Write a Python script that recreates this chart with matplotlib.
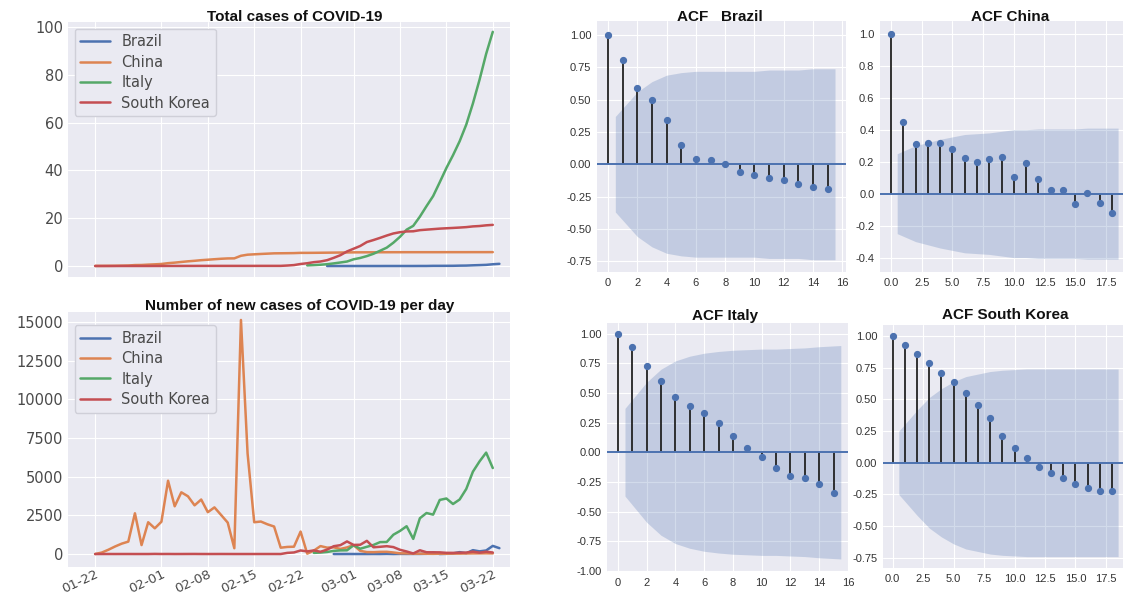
import matplotlib.pyplot as plt
import matplotlib.dates as mdates
import numpy as np
import pandas as pd
from matplotlib import font_manager

# total cases per 100k inhabitants
brazil_total = [0.00, 0.00, 0.00, 0.00, 0.00, 0.00, 0.00, 0.00, 0.00,
                0.01, 0.01, 0.01, 0.01, 0.01, 0.02, 0.02, 0.07, 0.07, 0.08,
                0.09, 0.15, 0.18, 0.29, 0.38, 0.48, 0.73, 0.91]
china_total = [0.04, 0.05, 0.07, 0.10, 0.15, 0.21, 0.39, 0.43, 0.58, 0.70,
               0.85, 1.19, 1.41, 1.69, 1.96, 2.18, 2.44, 2.63, 2.84, 3.03,
               3.17, 3.20, 4.28, 4.74, 4.89, 5.04, 5.17, 5.30, 5.33, 5.36,
               5.40, 5.50, 5.50, 5.52, 5.55, 5.58, 5.61, 5.64, 5.67,
               5.71, 5.72, 5.73, 5.74, 5.75, 5.76, 5.77, 5.77, 5.78, 5.78,
               5.78, 5.78, 5.78, 5.78, 5.79, 5.79, 5.79, 5.79, 5.80, 5.80, 5.80, 5.81]
italy_total = [0.26, 0.38, 0.53, 0.75, 1.09, 1.47, 1.87,
               2.81, 3.37, 4.15, 5.12, 6.39, 7.68, 9.75, 12.22, 15.20, 16.81,
               20.65, 25.04, 29.26, 35.05, 41.00, 46.36, 52.20, 59.17, 67.99,
               77.90, 88.76, 97.98]
korea_total = [0.00, 0.00, 0.00, 0.00, 0.01, 0.01, 0.01, 0.01, 0.01, 0.02,
               0.02, 0.03, 0.03, 0.03, 0.04, 0.04, 0.05, 0.05, 0.05, 0.05,
               0.05, 0.05, 0.05, 0.05, 0.05, 0.06, 0.06, 0.06, 0.06, 0.20,
               0.39, 0.84, 1.16, 1.61, 1.89, 2.44, 3.42, 4.52, 6.09,
               7.23, 8.38, 10.03, 10.87, 11.78, 12.75, 13.62, 14.15, 14.46, 14.53,
               15.00, 15.22, 15.43, 15.64, 15.79, 15.93, 16.09, 16.27, 16.57,
               16.73, 17.02, 17.21]

# new cases per day
brazil_new = [0, 0, 1, 0, 0, 0, 2, 0, 9, 0, 7, 5, 6, 7, 14, 99, 0, 11, 38,
              121, 51, 249, 172, 228, 525, 378]
china_new = [0, 95, 277, 486, 669, 802, 2632, 578, 2054, 1661,
             2089, 4739, 3086, 3991, 3733, 3147, 3523, 2704, 3015, 2525,
             2032, 373, 15136, 6500, 2055, 2100, 1921, 1777, 408, 458,
             473, 1451, 21, 219, 513, 412, 434, 328, 427,
             573, 202, 125, 119, 139, 143, 99, 44, 40, 19,
             24, 15, 11, 20, 16, 25, 25, 34, 39, 41, 46, 39]
italy_new = [74, 93, 131, 202, 233, 240,
             566, 342, 466, 587, 769, 778, 1247, 1492, 1797, 977,
             2313, 2651, 2547, 3497, 3590, 3233, 3526, 4207, 5322, 5986, 6557, 5560]
korea_new = [0, 0, 1, 0, 1, 1, 0, 0, 0, 7, 1, 3, 0, 1, 3, 4, 1, 0, 1, 2,
             1, 0, 0, 0, 0, 1, 1, 1, 0, 73, 100, 229, 169, 231, 144, 284, 505, 571, 813,
             586, 599, 851, 435, 467, 505, 448, 273, 164, 35,
             242, 114, 110, 107, 76, 74, 84, 93, 152, 87, 147, 98]

countries = ["Brazil", "China", "Italy", "South Korea"]
colors = ["#4C72B0", "#DD8452", "#55A868", "#C44E52"]
total_start = ["2020-02-26", "2020-01-22", "2020-02-23", "2020-01-22"]
new_start = ["2020-02-27", "2020-01-22", "2020-02-24", "2020-01-22"]

# autocorrelation of the new cases, with the 95% confidence band (lags 1..n)
acf_brazil = [1.0, 0.81, 0.59, 0.50, 0.34, 0.15, 0.044, 0.03, 0.005, -0.06,
              -0.085, -0.105, -0.124, -0.15, -0.18, -0.19]
conf_brazil = [0.37, 0.56, 0.64, 0.69, 0.71, 0.72, 0.72, 0.72, 0.72, 0.72,
               0.73, 0.73, 0.73, 0.74, 0.74]
acf_china = [1.0, 0.45, 0.31, 0.32, 0.315, 0.28, 0.22, 0.20, 0.215, 0.23,
             0.106, 0.19, 0.094, 0.023, 0.023, -0.067, 0.006, -0.056, -0.12]
conf_china = [0.25, 0.30, 0.32, 0.34, 0.355, 0.37, 0.375, 0.38, 0.39, 0.40,
              0.40, 0.405, 0.405, 0.405, 0.405, 0.41, 0.41, 0.41]
acf_italy = [1.0, 0.89, 0.73, 0.60, 0.47, 0.39, 0.33, 0.25, 0.14, 0.04,
             -0.04, -0.13, -0.20, -0.22, -0.27, -0.34]
conf_italy = [0.37, 0.59, 0.70, 0.77, 0.81, 0.835, 0.85, 0.86, 0.865, 0.87,
              0.87, 0.875, 0.88, 0.89, 0.90]
acf_korea = [1.0, 0.93, 0.86, 0.79, 0.705, 0.64, 0.55, 0.455, 0.35, 0.21,
             0.12, 0.04, -0.037, -0.08, -0.12, -0.17, -0.20, -0.22, -0.22]
conf_korea = [0.25, 0.415, 0.515, 0.585, 0.64, 0.68, 0.70, 0.72, 0.73, 0.735,
              0.74, 0.74, 0.74, 0.74, 0.74, 0.74, 0.74, 0.74]

plt.style.use("seaborn-v0_8-darkgrid")
plt.rcParams["font.family"] = ["DejaVu Sans"]
plt.rcParams["axes.unicode_minus"] = False

installed = {f.name for f in font_manager.fontManager.ttflist}
narrow = "Liberation Sans Narrow" if "Liberation Sans Narrow" in installed else "Liberation Sans"

W, H = 1123, 595
fig = plt.figure(figsize=(W / 100, H / 100), dpi=100)


def box(x0, y0, x1, y1):
    # pixel box -> figure fraction
    return [x0 / W, 1 - y1 / H, (x1 - x0) / W, (y1 - y0) / H]


def title(x, y, s):
    size = 12.5 if narrow != "Liberation Sans" else 11
    fig.text(x / W, 1 - y / H, s, ha="center", va="center", fontsize=size,
             fontweight="bold", family=[narrow], color="#111111")


grey = "#4a4a4a"
xlim = (mdates.date2num(pd.Timestamp("2020-01-22")) - 4.1,
        mdates.date2num(pd.Timestamp("2020-01-22")) + 62.6)

# ---- total cases
ax1 = fig.add_axes(box(68, 22, 510, 277))
for name, c, start, vals in zip(countries, colors, total_start,
                                [brazil_total, china_total, italy_total, korea_total]):
    d = pd.date_range(start, periods=len(vals), freq="D")
    ax1.plot(d, vals, color=c, lw=1.8, label=name)
ax1.set_ylim(-4.6, 102.1)
ax1.set_yticks([0, 20, 40, 60, 80, 100])
ax1.set_xlim(xlim)
ax1.xaxis.set_major_locator(mdates.DayLocator(bymonthday=[1, 8, 15, 22]))
ax1.tick_params(axis="x", labelbottom=False)
ax1.tick_params(axis="y", labelsize=10.5, labelcolor=grey)
ax1.legend(loc="upper left", fontsize=10.5, frameon=True, facecolor="#EAEAF2",
           edgecolor="#cfcfd8", framealpha=1, labelcolor=grey, labelspacing=0.37,
           bbox_to_anchor=(0.0, 1.0), borderaxespad=0.45)
title(295, 17, "Total cases of COVID-19")

# ---- new cases per day
ax2 = fig.add_axes(box(68, 312, 510, 567))
for name, c, start, vals in zip(countries, colors, new_start,
                                [brazil_new, china_new, italy_new, korea_new]):
    d = pd.date_range(start, periods=len(vals), freq="D")
    ax2.plot(d, vals, color=c, lw=1.8, label=name)
ax2.set_ylim(-840, 15650)
ax2.set_yticks([0, 2500, 5000, 7500, 10000, 12500, 15000])
ax2.set_xlim(xlim)
ax2.xaxis.set_major_locator(mdates.DayLocator(bymonthday=[1, 8, 15, 22]))
ax2.xaxis.set_major_formatter(mdates.DateFormatter("%m-%d"))
ax2.tick_params(axis="y", labelsize=10.5, labelcolor=grey)
ax2.tick_params(axis="x", labelsize=9.5, labelcolor=grey, pad=0.5)
for lab in ax2.get_xticklabels():
    lab.set_rotation(25)
    lab.set_ha("right")
    lab.set_rotation_mode("anchor")
ax2.legend(loc="upper left", fontsize=10.5, frameon=True, facecolor="#EAEAF2",
           edgecolor="#cfcfd8", framealpha=1, labelcolor=grey, labelspacing=0.37,
           bbox_to_anchor=(0.0, 0.975), borderaxespad=0.45)
title(300, 306, "Number of new cases of COVID-19 per day")


# ---- ACF panels
def acf_panel(rect, acf, conf, ylim, yticks, yfmt, xlim, xticks, xfmt, name, tpos):
    ax = fig.add_axes(box(*rect))
    lags = np.arange(len(acf))
    bx = lags[1:].astype(float)
    bx[0] -= 0.5
    bx[-1] += 0.5
    conf = np.array(conf)
    ax.fill_between(bx, -conf, conf, color="#4C72B0", alpha=0.25, lw=0)
    ax.vlines(lags, 0, acf, color="#222222", lw=1.3)
    ax.axhline(0, color="#4C72B0", lw=1.4)
    ax.plot(lags, acf, "o", color="#4C72B0", ms=4.2)
    ax.set_xlim(xlim)
    ax.set_ylim(ylim)
    ax.set_xticks(xticks)
    ax.set_yticks(yticks)
    ax.set_xticklabels([xfmt.format(v) for v in xticks])
    ax.set_yticklabels([yfmt.format(v) for v in yticks])
    for lab in ax.get_xticklabels() + ax.get_yticklabels():
        lab.set_family([narrow])
    ax.tick_params(labelsize=8, labelcolor="#333333", pad=4)
    title(tpos[0], tpos[1], name)
    return ax


acf_panel((597, 21, 846, 272), acf_brazil, conf_brazil, (-0.835, 1.11),
          np.arange(-0.75, 1.01, 0.25), "{:.2f}", (-0.75, 16.25),
          list(range(0, 17, 2)), "{:d}", "ACF   Brazil", (720, 17))
acf_panel((880, 21, 1123, 272), acf_china, conf_china, (-0.49, 1.08),
          np.arange(-0.4, 1.01, 0.2), "{:.1f}", (-0.9, 18.9),
          np.arange(0, 18, 2.5), "{:.1f}", "ACF China", (1010, 17))
acf_panel((607, 323, 848, 572), acf_italy, conf_italy, (-1.01, 1.09),
          np.arange(-1.0, 1.01, 0.25), "{:.2f}", (-0.75, 15.85),
          list(range(0, 17, 2)), "{:d}", "ACF Italy", (725, 316))
acf_panel((883, 325, 1123, 568), acf_korea, conf_korea, (-0.83, 1.087),
          np.arange(-0.75, 1.01, 0.25), "{:.2f}", (-0.8, 18.9),
          np.arange(0, 18, 2.5), "{:.1f}", "ACF South Korea", (1005, 315))

plt.savefig("out.png", dpi=100)
